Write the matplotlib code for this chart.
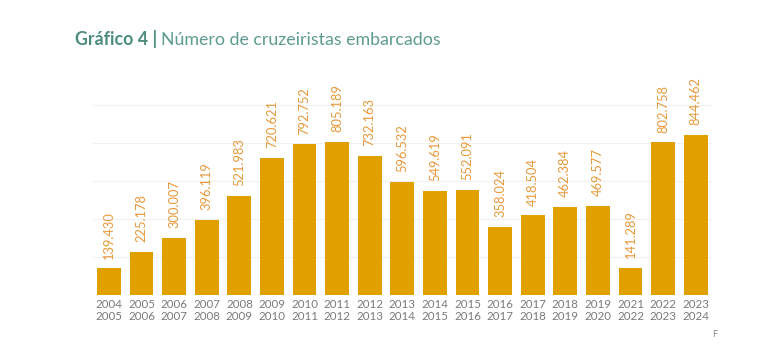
import matplotlib.pyplot as plt

# ------------------------------------------------------------
# Data
# ------------------------------------------------------------
seasons = ['2004\n2005', '2005\n2006', '2006\n2007', '2007\n2008', '2008\n2009',
           '2009\n2010', '2010\n2011', '2011\n2012', '2012\n2013', '2013\n2014',
           '2014\n2015', '2015\n2016', '2016\n2017', '2017\n2018', '2018\n2019',
           '2019\n2020', '2021\n2022', '2022\n2023', '2023\n2024']
cruisers = [139430, 225178, 300007, 396119, 521983,
            720621, 792752, 805189, 732163, 596532,
            549619, 552091, 358024, 418504, 462384,
            469577, 141289, 802758, 844462]

bar_color = '#E0A000'
label_color = '#E8983A'
title_color = '#4E8C7E'

plt.rcParams['font.family'] = ['Lato', 'DejaVu Sans']

fig = plt.figure(figsize=(7.8, 3.58), dpi=100)
ax = fig.add_axes([0.1188, 0.176, 0.794, 0.637])

x = range(len(seasons))
bars = ax.bar(x, cruisers, width=0.73, color=bar_color, zorder=3)

# value labels, rotated, above each bar
for rect, v in zip(bars, cruisers):
    lbl = f'{v:,}'.replace(',', '.')
    ax.annotate(lbl, (rect.get_x() + rect.get_width() / 2, rect.get_height()),
                xytext=(0, 7), textcoords='offset points', rotation=90,
                ha='center', va='bottom', fontsize=9.3, color=label_color)

ax.set_xlim(-0.5, len(seasons) - 0.5)
ax.set_ylim(0, 1200000)
ax.set_yticks([200000, 400000, 600000, 800000, 1000000])
ax.yaxis.grid(True, color='#F0F0F0', linewidth=0.8, zorder=0)
ax.tick_params(axis='y', left=False, labelleft=False)
ax.set_xticks(list(x))
ax.set_xticklabels(seasons, fontsize=8.3, color='#7A7A7A', linespacing=1.1)
ax.tick_params(axis='x', length=0, pad=3)
for s in ax.spines.values():
    s.set_visible(False)

# title: bold part + regular part
t1 = fig.text(0.096, 0.875, 'Gráfico 4 |', fontsize=12.8, fontweight='bold',
              color=title_color, va='baseline')
fig.canvas.draw()
bb = t1.get_window_extent()
x_next = (bb.x1 + 4) / fig.bbox.width
fig.text(x_next, 0.875, 'Número de cruzeiristas embarcados', fontsize=12.8,
         color='#5E9C8E', va='baseline')

# cut-off source note at the bottom right
fig.text(0.913, 0.06, 'F', fontsize=6.5, color='#888888')

plt.savefig('out.png', dpi=100)
